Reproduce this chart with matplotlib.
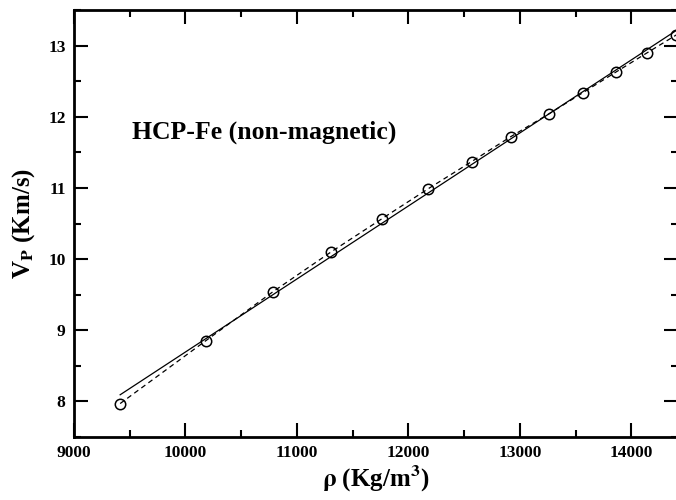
import matplotlib
matplotlib.use('Agg')
import matplotlib.pyplot as plt
import numpy as np
from matplotlib.ticker import MultipleLocator

# density (kg/m^3) and P-wave velocity (km/s)
rho = [9414, 10180, 10784, 11306, 11766, 12180, 12568, 12919, 13261, 13568, 13865, 14144, 14405]
vp = [7.97, 8.85, 9.54, 10.10, 10.57, 10.99, 11.37, 11.72, 12.04, 12.34, 12.63, 12.90, 13.15]

# linear fit (Birch's law)
slope, icpt = np.polyfit(rho, vp, 1)
fit_x = np.array([rho[0], 14420])
fit_y = slope * fit_x + icpt

plt.rcParams['font.family'] = ['Liberation Serif', 'DejaVu Serif']
plt.rcParams['font.weight'] = 'bold'
plt.rcParams['mathtext.fontset'] = 'stix'

fig = plt.figure(figsize=(6.76, 5.0), dpi=100)
ax = fig.add_axes([0.1095, 0.126, 0.8935, 0.854])

ax.plot(fit_x, fit_y, 'k-', lw=0.9)
ax.plot(rho, vp, 'k--', lw=0.9, dashes=(4, 3))
ax.plot(rho, vp, 'o', ms=7.5, mfc='none', mec='k', mew=1.1, clip_on=False)

ax.set_xlim(9000, 14420)
ax.set_ylim(7.5, 13.5)
ax.xaxis.set_major_locator(MultipleLocator(1000))
ax.xaxis.set_minor_locator(MultipleLocator(500))
ax.yaxis.set_major_locator(MultipleLocator(1))
ax.yaxis.set_minor_locator(MultipleLocator(0.5))
ax.tick_params(which='both', direction='in', top=True, right=True, width=1.5, labelsize=12.5)
ax.tick_params(which='major', length=10, pad=6)
ax.tick_params(which='minor', length=5)
for s in ax.spines.values():
    s.set_linewidth(2)

ax.set_xlabel(r'$\mathrm{\rho}$ (Kg/m$^\mathbf{3}$)', fontsize=18, fontweight='bold', labelpad=2)
ax.set_ylabel(r'V$_\mathbf{P}$ (Km/s)', fontsize=18, fontweight='bold', labelpad=8)

ax.text(0.096, 0.70, 'HCP-Fe (non-magnetic)', transform=ax.transAxes,
        fontsize=18.5, fontweight='bold', va='baseline')

fig.savefig('out.png', dpi=100)
